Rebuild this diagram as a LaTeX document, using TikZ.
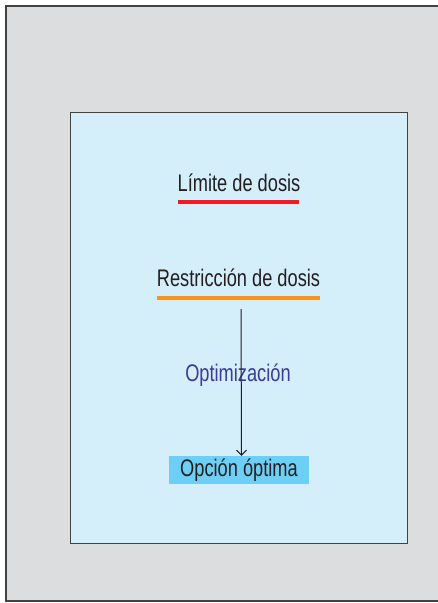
\documentclass[tikz,border=0pt]{standalone}
\usepackage{fontspec}
\setmainfont{Liberation Sans}[FakeStretch=0.76]
\usetikzlibrary{arrows.meta}

\definecolor{fondo}{HTML}{DCDDDE}
\definecolor{celeste}{HTML}{D4EEFA}
\definecolor{rojo}{HTML}{ED1C24}
\definecolor{naranja}{HTML}{F7941D}
\definecolor{cian}{HTML}{6DCFF6}
\definecolor{azul}{HTML}{3B3B99}
\definecolor{tinta}{HTML}{231F20}

\begin{document}
\begin{tikzpicture}
[
    x=1pt, y=-1pt,
    rotulo/.style={text=tinta, font=\fontsize{24}{26}\selectfont, inner sep=0pt},
    raya/.style={minimum height=4pt, inner sep=0pt},
]
\useasboundingbox (0,0) rectangle (438,603);
% marcos
\draw[fill=fondo, draw=tinta!85, line width=1.6pt] (6,6) rectangle (446,601);
\draw[fill=celeste, draw=tinta!85, line width=0.9pt] (70,112) rectangle (407,543);
% limite
\node[rotulo] (limite) at (239,183) {Límite de dosis};
\node[raya, fill=rojo, minimum width=121pt] (rayaroja) at (238.5,202) {};
% restriccion
\node[rotulo] (restriccion) at (238.5,278) {Restricción de dosis};
\node[raya, fill=naranja, minimum width=163pt] (rayanaranja) at (238.5,298) {};
% optima
\node[rotulo, fill=cian, minimum width=140pt, minimum height=28pt] (opcion) at (239,470) {Opción óptima};
\node[rotulo, text=azul] (optim) at (238,375) {Optimización};
\draw[tinta, line width=1pt, -{Straight Barb[length=5pt, width=10pt]}]
    ([xshift=2.5pt, yshift=-9pt]rayanaranja.south) -- ([xshift=2.5pt]opcion.north);
\end{tikzpicture}
\end{document}
